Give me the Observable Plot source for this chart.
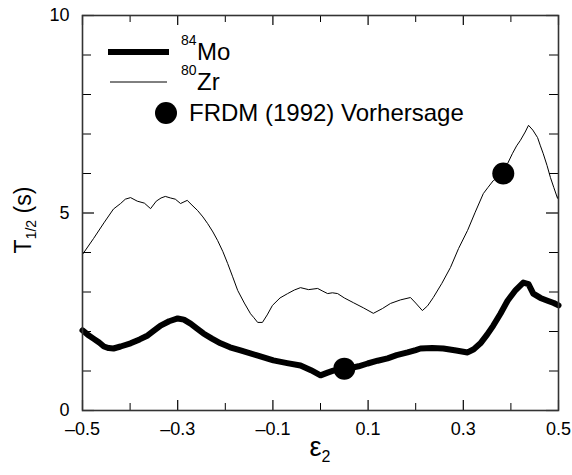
<!DOCTYPE html>
<html>
<head>
<meta charset="utf-8">
<script src="https://cdn.jsdelivr.net/npm/d3@7"></script>
<script src="https://cdn.jsdelivr.net/npm/@observablehq/plot@0.6"></script>
<style>
  html, body { margin: 0; padding: 0; background: white; }
  #chart { width: 572px; height: 475px; }
</style>
</head>
<body>
<div id="chart"></div>
<script>
// ε2 deformation values and half-lives (s)
const zrEps = [-0.5, -0.477, -0.455, -0.435, -0.42, -0.41, -0.399, -0.385, -0.37, -0.357, -0.345, -0.335, -0.326, -0.315, -0.305, -0.294, -0.28, -0.27, -0.258, -0.247, -0.237, -0.226, -0.216, -0.205, -0.195, -0.185, -0.174, -0.16, -0.147, -0.14, -0.132, -0.122, -0.112, -0.101, -0.085, -0.069, -0.055, -0.042, -0.025, -0.006, 0.005, 0.015, 0.025, 0.036, 0.05, 0.069, 0.09, 0.111, 0.13, 0.147, 0.168, 0.189, 0.2, 0.214, 0.225, 0.237, 0.255, 0.273, 0.29, 0.309, 0.325, 0.342, 0.352, 0.363, 0.373, 0.384, 0.393, 0.403, 0.412, 0.42, 0.43, 0.437, 0.446, 0.456, 0.462, 0.468, 0.476, 0.483, 0.49, 0.498, 0.5];
const zrT = [3.95, 4.35, 4.75, 5.1, 5.24, 5.35, 5.39, 5.3, 5.25, 5.11, 5.3, 5.38, 5.42, 5.38, 5.35, 5.24, 5.32, 5.2, 5.06, 4.9, 4.73, 4.52, 4.3, 4.02, 3.72, 3.4, 3.04, 2.72, 2.45, 2.35, 2.23, 2.23, 2.42, 2.66, 2.85, 2.96, 3.05, 3.11, 3.06, 3.09, 3.02, 2.96, 2.98, 2.96, 2.85, 2.73, 2.6, 2.46, 2.58, 2.71, 2.8, 2.86, 2.72, 2.53, 2.65, 2.86, 3.22, 3.62, 4.1, 4.56, 5.02, 5.49, 5.65, 5.82, 5.9, 6.0, 6.25, 6.5, 6.7, 6.84, 7.05, 7.22, 7.1, 6.91, 6.7, 6.5, 6.2, 5.9, 5.65, 5.37, 5.45];

const moEps = [-0.5, -0.489, -0.477, -0.465, -0.455, -0.445, -0.435, -0.42, -0.399, -0.38, -0.363, -0.35, -0.336, -0.318, -0.3, -0.287, -0.273, -0.26, -0.246, -0.228, -0.21, -0.19, -0.168, -0.135, -0.099, -0.07, -0.042, -0.02, 0.0, 0.015, 0.027, 0.057, 0.08, 0.099, 0.12, 0.141, 0.16, 0.183, 0.2, 0.21, 0.235, 0.258, 0.285, 0.309, 0.322, 0.336, 0.35, 0.363, 0.378, 0.393, 0.41, 0.426, 0.437, 0.447, 0.462, 0.477, 0.49, 0.5];
const moT = [2.03, 1.92, 1.82, 1.72, 1.62, 1.58, 1.57, 1.62, 1.7, 1.8, 1.9, 2.02, 2.15, 2.26, 2.33, 2.3, 2.2, 2.08, 1.95, 1.82, 1.7, 1.6, 1.52, 1.4, 1.27, 1.2, 1.14, 1.02, 0.89, 0.96, 1.01, 1.06, 1.12, 1.19, 1.26, 1.32, 1.4, 1.47, 1.53, 1.57, 1.58, 1.57, 1.52, 1.47, 1.55, 1.7, 1.92, 2.15, 2.45, 2.78, 3.05, 3.24, 3.2, 2.96, 2.85, 2.78, 2.72, 2.66];

const frdmEps = [0.05, 0.384];
const frdmT = [1.06, 6.0];

const xMajor = [-0.5, -0.3, -0.1, 0.1, 0.3, 0.5];
const xMinor = [-0.4, -0.2, 0.0, 0.2, 0.4];
const yMajor = [0, 5, 10];
const yMinor = [1, 2, 3, 4, 6, 7, 8, 9];

const legendLabels = [["84", "Mo"], ["80", "Zr"], ["", "FRDM (1992) Vorhersage"]];

const zr = zrEps.map((x, i) => ({x, y: zrT[i]}));
const mo = moEps.map((x, i) => ({x, y: moT[i]}));
const frdm = frdmEps.map((x, i) => ({x, y: frdmT[i]}));

const W = 572, H = 475, mL = 82, mR = 14, mT = 15, mB = 65;
const fw = W - mL - mR, fh = H - mT - mB;

const fmt = d => (d < 0 ? "\u2013" : "") + (Math.abs(d) === 10 ? "10" : (Number.isInteger(d) ? String(Math.abs(d)) : Math.abs(d).toFixed(1)));

const chart = Plot.plot({
  width: W, height: H,
  marginLeft: mL, marginRight: mR, marginTop: mT, marginBottom: mB,
  x: {domain: [-0.5, 0.5]},
  y: {domain: [0, 10]},
  style: {fontFamily: "'Liberation Sans', Arial, sans-serif", background: "white", color: "black"},
  marks: [
    Plot.axisX(xMajor, {tickSize: 0, tickPadding: 12, label: null, fontSize: 18, tickFormat: fmt}),
    Plot.axisY(yMajor, {tickSize: 0, tickPadding: 13, label: null, fontSize: 18, tickFormat: fmt}),
    Plot.tickX(xMajor, {x: d => d, insetTop: fh - 10, strokeWidth: 1.2}),
    Plot.tickX(xMajor, {x: d => d, insetBottom: fh - 10, strokeWidth: 1.2}),
    Plot.tickX(xMinor, {x: d => d, insetTop: fh - 7}),
    Plot.tickX(xMinor, {x: d => d, insetBottom: fh - 7}),
    Plot.tickY(yMajor, {y: d => d, insetRight: fw - 12, strokeWidth: 1.2}),
    Plot.tickY(yMajor, {y: d => d, insetLeft: fw - 12, strokeWidth: 1.2}),
    Plot.tickY(yMinor, {y: d => d, insetRight: fw - 9}),
    Plot.tickY(yMinor, {y: d => d, insetLeft: fw - 9}),
    Plot.line(zr, {x: "x", y: "y", stroke: "black", strokeWidth: 1}),
    Plot.line(mo, {x: "x", y: "y", stroke: "black", strokeWidth: 6, strokeLinejoin: "round"}),
    Plot.dot(frdm, {x: "x", y: "y", r: 11, fill: "black", stroke: "none"}),
    Plot.frame({stroke: "#333", strokeWidth: 1.6})
  ]
});
document.getElementById("chart").appendChild(chart);

const svg = d3.select(chart);
const ff = "'Liberation Sans', Arial, sans-serif";

// legend
const lg = svg.append("g").attr("font-family", ff).attr("fill", "black").attr("text-anchor", "start");
lg.append("line").attr("x1", 108).attr("x2", 169).attr("y1", 52).attr("y2", 52).attr("stroke", "black").attr("stroke-width", 6);
lg.append("line").attr("x1", 110).attr("x2", 167).attr("y1", 82).attr("y2", 82).attr("stroke", "black").attr("stroke-width", 1);
lg.append("circle").attr("cx", 166).attr("cy", 113).attr("r", 11).attr("fill", "black");
const rows = [{sb: 45, b: 60}, {sb: 75, b: 90}];
rows.forEach((r, i) => {
  lg.append("text").attr("x", 181).attr("y", r.sb).attr("font-size", 14).text(legendLabels[i][0]);
  lg.append("text").attr("x", 197).attr("y", r.b).attr("font-size", 24).text(legendLabels[i][1]);
});
lg.append("text").attr("x", 189).attr("y", 121).attr("font-size", 24).text(legendLabels[2][1]);

// axis titles
const yt = svg.append("text").attr("font-family", ff).attr("font-size", 23)
  .attr("transform", "translate(31,220) rotate(-90)").attr("text-anchor", "middle");
yt.append("tspan").text("T");
yt.append("tspan").attr("font-size", 14).attr("dy", 5).text("1/2");
yt.append("tspan").attr("dy", -5).text(" (s)");

const xt = svg.append("text").attr("font-family", ff).attr("font-size", 27)
  .attr("x", 320).attr("y", 456).attr("text-anchor", "middle");
xt.append("tspan").text("\u03b5");
xt.append("tspan").attr("font-size", 16).attr("dy", 6).text("2");
</script>
</body>
</html>
